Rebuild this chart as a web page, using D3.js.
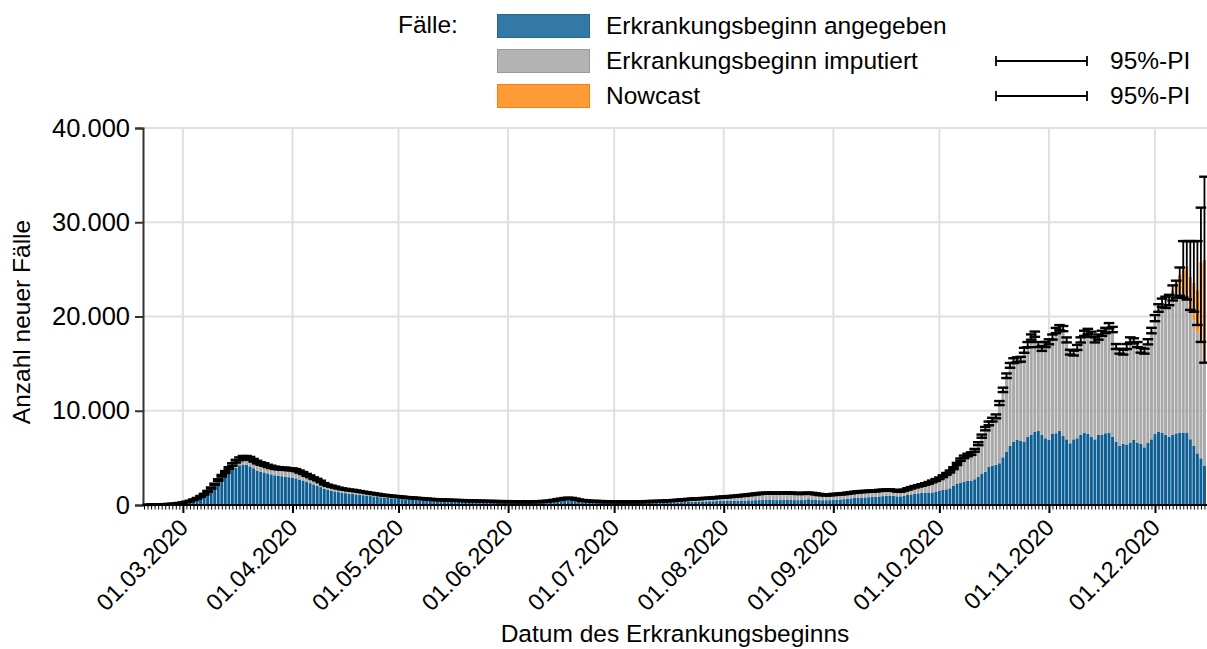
<!DOCTYPE html>
<html>
<head>
<meta charset="utf-8">
<style>
  body { margin: 0; background: #fff; }
  svg text { font-family: "Liberation Sans", Arial, sans-serif; fill: #000; }
</style>
</head>
<body>
<div id="chart"></div>
<script src="https://cdn.jsdelivr.net/npm/d3@7/dist/d3.min.js"></script>
<script>
// daily values, first day 20.02.2020, last day 15.12.2020
var startDate = "2020-02-20";
var nowcastStart = "2020-12-05";

// Erkrankungsbeginn angegeben
var blue = [
  15,20,25,32,40,48,65,80,105,135,
  210,280,360,470,600,770,960,1200,1500,1850,2200,2600,2950,3300,3650,3950,4200,4300,4280,4100,3900,3650,3500,3450,3350,3250,3150,3100,3050,3000,2950,
  2880,2830,2700,2600,2450,2320,2180,2050,1900,1720,1600,1520,1440,1370,1310,1260,1210,1180,1130,1090,1040,1000,950,900,860,810,780,750,710,680,
  640,620,590,570,540,520,500,480,450,430,410,400,390,370,360,350,340,330,320,310,300,295,290,280,270,265,260,255,250,245,240,
  235,230,225,220,220,215,215,220,220,225,235,250,270,300,340,380,420,460,420,370,320,280,260,240,230,225,220,215,210,210,
  205,200,195,195,190,190,195,200,205,210,215,220,225,230,240,250,260,270,285,300,315,330,345,355,365,375,385,395,405,415,425,
  430,440,450,460,460,470,480,490,500,510,520,525,530,530,525,520,525,530,535,530,520,515,520,560,620,580,540,520,510,510,520,
  540,560,590,620,660,700,740,770,790,810,830,850,880,910,940,960,980,960,920,920,980,1060,1120,1180,1240,1280,1310,1320,1330,1400,
  1520,1590,1660,1770,2020,2230,2370,2480,2580,2580,2730,3010,3290,3540,4070,4140,4250,4430,5060,5660,6270,6730,6900,6830,6730,7260,7430,7750,7860,7430,7080,
  6900,7540,7610,7890,7330,6970,6550,6970,7080,7430,7680,7540,7260,6970,7430,7430,7610,7680,7260,6730,6270,6480,6370,6620,6900,6620,6480,6120,6620,6970,
  7530,7780,7690,7430,7250,7430,7600,7690,7690,7690,6980,6260,5480,4950,4140
];

// Erkrankungsbeginn imputiert
var gray = [
  5,5,5,8,10,12,15,20,25,35,
  40,50,70,90,120,150,190,250,300,350,450,500,550,600,650,700,700,750,770,850,850,900,900,850,800,800,800,800,800,850,850,
  900,870,850,800,750,730,670,650,600,530,500,480,460,430,410,400,390,380,370,350,340,320,310,300,290,270,260,250,250,240,
  240,230,210,210,210,200,190,180,180,170,170,160,160,160,160,150,150,150,150,150,140,135,130,130,130,125,120,125,120,115,120,
  125,120,125,125,120,125,125,125,130,135,145,150,170,200,220,240,260,260,270,250,220,200,180,170,160,155,150,145,140,140,
  140,140,140,135,140,140,140,140,145,150,155,160,165,170,180,190,200,210,225,240,255,270,285,295,305,315,325,335,355,375,395,
  420,430,450,470,500,530,560,590,620,660,690,715,730,740,735,730,735,750,755,740,720,705,700,680,640,650,640,600,570,550,560,
  570,580,580,580,590,600,610,620,630,630,630,630,620,630,630,630,620,600,560,550,600,640,700,750,790,840,910,1030,1170,1250,
  1310,1460,1640,1780,1880,2120,2430,2620,2720,2870,3070,3490,4010,4560,4580,4910,5150,6370,7140,8040,8530,8570,8500,8620,9670,9740,10370,10350,9140,9170,9920,
  10400,10260,10890,10910,11370,10530,9650,9130,9620,10070,10520,10860,10840,10530,10370,10770,10890,11320,11340,10070,10030,9720,10430,10880,10500,10380,9920,10180,10680,11530,
  12270,13020,13610,13870,14450,14900,15000,14900,14500,14100,13600,13300,12900,12300,11460
];

// Nowcast, from 05.12.2020
var nowcast = [100,400,1000,1800,2800,3500,3600,4000,4400,8500,10400];

// 95%-PI, lower and upper bound
var piLow = [
  10,15,20,25,30,40,55,70,95,130,
  220,300,400,530,690,880,1110,1400,1740,2130,2570,3010,3400,3790,4170,4510,4750,4900,4900,4800,4610,4410,4270,4170,4030,3930,3830,3780,3730,3730,3690,
  3670,3590,3440,3300,3100,2960,2760,2620,2420,2180,2040,1940,1840,1750,1670,1610,1550,1510,1450,1400,1340,1280,1220,1160,1110,1040,1000,960,920,880,
  830,800,750,730,700,670,640,610,580,550,530,510,500,480,470,450,440,430,420,410,390,380,370,360,350,340,330,330,320,310,310,
  310,300,300,295,290,290,290,295,300,310,330,350,390,450,500,560,620,660,630,560,490,430,390,360,340,330,320,310,300,300,
  295,290,285,280,280,280,285,290,300,310,320,330,340,350,370,390,410,430,460,490,520,550,580,600,620,640,660,680,705,735,765,
  795,815,845,875,905,945,985,1025,1065,1115,1155,1185,1205,1215,1205,1195,1205,1225,1235,1215,1185,1165,1165,1185,1205,1175,1125,1065,1025,1005,1025,
  1050,1080,1110,1140,1190,1240,1290,1330,1360,1380,1400,1420,1440,1480,1510,1530,1540,1500,1420,1410,1515,1635,1750,1860,1955,2040,2140,2265,2410,2555,
  2750,2960,3210,3450,3800,4240,4680,4970,5170,5320,5660,6350,7140,7920,8460,8860,9200,10600,11980,13470,14560,15060,15160,15210,16150,16740,17540,17840,16750,16350,16750,
  17050,17550,18240,18540,18440,17250,15960,15860,16450,17240,17940,18140,17840,17250,17540,17940,18230,18730,18340,16550,16060,15960,16550,17240,17140,16750,16160,16060,17040,18220,
  19500,20500,21000,20900,21200,21700,22000,22200,22000,21800,20700,20500,19100,17300,15100
];
var piHigh = [
  40,45,55,65,80,95,115,140,175,220,
  280,360,460,590,750,960,1190,1500,1860,2270,2730,3190,3600,4010,4430,4790,5050,5200,5200,5100,4890,4690,4530,4430,4270,4170,4070,4020,3970,3970,3910,
  3890,3810,3660,3500,3300,3140,2940,2780,2580,2320,2160,2060,1960,1850,1770,1710,1650,1610,1550,1480,1420,1360,1300,1240,1190,1120,1080,1040,1000,960,
  930,900,850,830,800,770,740,710,680,650,630,610,600,580,570,550,540,530,520,510,490,480,470,460,450,440,430,430,420,410,410,
  410,400,400,395,390,390,390,395,400,410,430,450,490,550,620,680,740,780,750,680,590,530,490,460,440,430,420,410,400,400,
  395,390,385,380,380,380,385,390,400,410,420,430,440,450,470,490,510,530,560,590,620,650,680,700,720,740,760,780,815,845,875,
  910,930,960,990,1020,1060,1100,1140,1180,1230,1270,1300,1320,1330,1320,1310,1320,1340,1350,1330,1300,1280,1280,1300,1320,1290,1240,1180,1140,1120,1140,
  1175,1205,1235,1265,1315,1365,1415,1455,1485,1505,1525,1545,1565,1605,1635,1655,1665,1625,1545,1535,1650,1775,1900,2010,2110,2205,2310,2440,2595,2750,
  2920,3150,3400,3660,4010,4470,4930,5240,5440,5590,5950,6660,7470,8280,8850,9250,9610,11030,12450,13960,15070,15570,15670,15720,16680,17290,18100,18400,17290,16880,17290,
  17580,18090,18790,19090,18990,17780,16470,16370,16980,17790,18490,18690,18390,17790,18090,18490,18800,19300,18900,17080,16570,16470,17080,17790,17690,17290,16680,16580,17590,18800,
  20150,21300,21900,22100,22300,23300,23800,25200,28000,28000,28000,28000,28000,31550,34830
];

var yTicks = [0, 10000, 20000, 30000, 40000];
var legendLabels = ["Erkrankungsbeginn angegeben", "Erkrankungsbeginn imputiert", "Nowcast"];
var colors = ["#0d5e93", "#a9a9a9", "#f5891e"];
var swatchFill = ["#3479a6", "#b3b3b3", "#ff9a36"];
var swatchStroke = ["#24678f", "#9a9a9a", "#f08010"];

var W = 1207, H = 649;
var pLeft = 143, pRight = 1207, pTop = 128, pBottom = 505;
var fs = 24.5;

var parse = d3.utcParse("%Y-%m-%d");
var t0 = parse(startDate);
var ncOffset = d3.utcDay.count(t0, parse(nowcastStart));

var data = blue.map(function(b, i) {
  var o = (i >= ncOffset) ? nowcast[i - ncOffset] : 0;
  return { date: d3.utcDay.offset(t0, i), b: b, g: gray[i], o: o, lo: piLow[i], hi: piHigh[i] };
});

var x = d3.scaleUtc()
  .domain([d3.utcDay.offset(t0, -1), d3.utcDay.offset(t0, blue.length)])
  .range([pLeft + 1, 1208]);
var y = d3.scaleLinear().domain([0, 40000]).range([pBottom, pTop]);

var de = d3.formatLocale({ decimal: ",", thousands: ".", grouping: [3], currency: ["", " €"] });
var fmt = de.format(",.0f");

var svg = d3.select("#chart").append("svg")
  .attr("width", W).attr("height", H);

var months = d3.utcMonth.range(d3.utcMonth.ceil(x.domain()[0]), x.domain()[1]);

// grid
svg.append("g").selectAll("line").data(months).enter().append("line")
  .attr("x1", function(d) { return x(d); }).attr("x2", function(d) { return x(d); })
  .attr("y1", pTop).attr("y2", pBottom)
  .attr("stroke", "#e0e0e0").attr("stroke-width", 2);
svg.append("g").selectAll("line").data(yTicks.slice(1)).enter().append("line")
  .attr("x1", pLeft).attr("x2", pRight)
  .attr("y1", function(d) { return y(d); }).attr("y2", function(d) { return y(d); })
  .attr("stroke", "#e0e0e0").attr("stroke-width", 2);

// bars
var bw = x(d3.utcDay.offset(t0, 1)) - x(t0);
var bars = svg.append("g");
function stackBar(cls, lowF, highF, color) {
  bars.selectAll("rect." + cls).data(data.filter(function(d) { return highF(d) > lowF(d); }))
    .enter().append("rect")
    .attr("class", cls)
    .attr("x", function(d) { return x(d.date) - bw / 2 + 0.3; })
    .attr("width", bw - 0.6)
    .attr("y", function(d) { return y(highF(d)); })
    .attr("height", function(d) { return y(lowF(d)) - y(highF(d)); })
    .attr("fill", color);
}
stackBar("b", function(d) { return 0; }, function(d) { return d.b; }, colors[0]);
stackBar("g", function(d) { return d.b; }, function(d) { return d.b + d.g; }, colors[1]);
stackBar("o", function(d) { return d.b + d.g; }, function(d) { return d.b + d.g + d.o; }, colors[2]);

// error bars
var capW = 5.3;
var eb = svg.append("g").attr("stroke", "#000").attr("stroke-width", 2.4);
data.forEach(function(d) {
  var cx = x(d.date);
  eb.append("line").attr("x1", cx).attr("x2", cx).attr("y1", y(d.lo)).attr("y2", y(d.hi)).attr("stroke-width", 1.8);
  eb.append("line").attr("x1", cx - capW).attr("x2", cx + capW).attr("y1", y(d.lo)).attr("y2", y(d.lo));
  eb.append("line").attr("x1", cx - capW).attr("x2", cx + capW).attr("y1", y(d.hi)).attr("y2", y(d.hi));
});

// y axis
var yAxis = svg.append("g").attr("transform", "translate(" + pLeft + ",0)")
  .call(d3.axisLeft(y).tickValues(yTicks).tickFormat(fmt).tickSize(8).tickPadding(5));
yAxis.select(".domain").attr("stroke", "#333").attr("stroke-width", 2);
yAxis.selectAll(".tick line").attr("stroke", "#333").attr("stroke-width", 2);
yAxis.selectAll("text").attr("font-size", 25.5).attr("fill", "#000")
  .attr("font-family", "Liberation Sans, Arial, sans-serif");

// x axis, daily minor ticks
var xMinor = svg.append("g").attr("transform", "translate(0," + pBottom + ")")
  .call(d3.axisBottom(x).ticks(d3.utcDay.every(1)).tickSize(4.5).tickFormat(""));
xMinor.select(".domain").remove();
xMinor.selectAll(".tick line").attr("stroke", "#000").attr("stroke-width", 1);

var xAxis = svg.append("g").attr("transform", "translate(0," + pBottom + ")")
  .call(d3.axisBottom(x).tickValues(months).tickSize(8).tickFormat(d3.utcFormat("%d.%m.%Y")));
xAxis.select(".domain").attr("stroke", "#000").attr("stroke-width", 2).attr("d", "M" + pLeft + ",0H" + pRight);
xAxis.selectAll(".tick line").attr("stroke", "#000").attr("stroke-width", 2);
xAxis.selectAll("text")
  .attr("font-size", 23.5).attr("fill", "#000")
  .attr("font-family", "Liberation Sans, Arial, sans-serif")
  .attr("text-anchor", "end")
  .attr("dy", 0).attr("y", 0)
  .attr("transform", "translate(6,24) rotate(-45)");

// axis titles
svg.append("text").attr("x", 675).attr("y", 642).attr("text-anchor", "middle")
  .attr("font-size", fs).text("Datum des Erkrankungsbeginns");
svg.append("text").attr("transform", "translate(30,322) rotate(-90)").attr("text-anchor", "middle")
  .attr("font-size", fs).text("Anzahl neuer Fälle");

// legend
var lg = svg.append("g");
lg.append("text").attr("x", 398).attr("y", 33).attr("font-size", fs).text("Fälle:");
legendLabels.forEach(function(label, i) {
  var cy = 26 + i * 35;
  lg.append("rect").attr("x", 497.5).attr("y", cy - 11.5).attr("width", 92).attr("height", 23)
    .attr("fill", swatchFill[i]).attr("stroke", swatchStroke[i]).attr("stroke-width", 1);
  lg.append("text").attr("x", 606).attr("y", cy + 8).attr("font-size", fs).text(label);
  if (i > 0) {
    var lx0 = 996, lx1 = 1087;
    lg.append("line").attr("x1", lx0).attr("x2", lx1).attr("y1", cy).attr("y2", cy)
      .attr("stroke", "#000").attr("stroke-width", 1.8);
    [lx0, lx1].forEach(function(xx) {
      lg.append("line").attr("x1", xx).attr("x2", xx).attr("y1", cy - 5).attr("y2", cy + 5)
        .attr("stroke", "#000").attr("stroke-width", 1.8);
    });
    lg.append("text").attr("x", 1110).attr("y", cy + 8).attr("font-size", fs).text("95%-PI");
  }
});
</script>
</body>
</html>
